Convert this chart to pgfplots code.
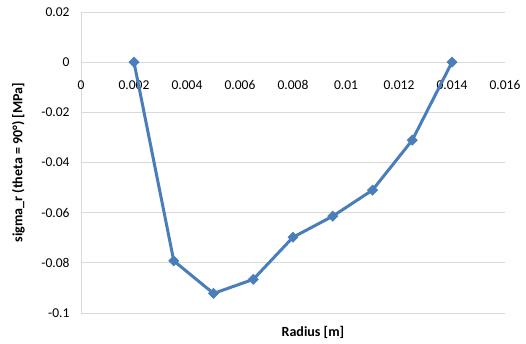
\documentclass[border=0pt]{standalone}
\usepackage{pgfplots}
\pgfplotsset{compat=1.18}
\usepackage{fontspec}
\setmainfont{Carlito}
\definecolor{series}{HTML}{4A7EBB}
\definecolor{gridc}{HTML}{D9D9D9}
\begin{document}
\begin{tikzpicture}[x=1pt,y=1pt]
\path[use as bounding box] (0,0) rectangle (526,343);
\begin{axis}[at={(81pt,30pt)}, anchor=south west, scale only axis,
  width=424pt, height=301pt,
  xmin=0, xmax=0.016, ymin=-0.1, ymax=0.02,
  scaled ticks=false,
  axis x line=middle, axis y line=left,
  axis line style={gridc, line width=0.8pt, -},
  hide obscured x ticks=false, hide obscured y ticks=false,
  xtick={0,0.002,0.004,0.006,0.008,0.01,0.012,0.014,0.016},
  xticklabels={0,0.002,0.004,0.006,0.008,0.01,0.012,0.014,0.016},
  ytick={-0.1,-0.08,-0.06,-0.04,-0.02,0,0.02},
  yticklabels={-0.1,-0.08,-0.06,-0.04,-0.02,0,0.02},
  major tick length=0pt,
  ymajorgrids, grid style={gridc, line width=0.8pt},
  tick label style={font=\fontsize{13.5}{15}\selectfont, text=black},
  yticklabel style={xshift=-8pt},
  xticklabel style={anchor=center, yshift=-23pt},
  xlabel={Radius [m]},
  ylabel={sigma\_r (theta = 90°) [MPa]},
  label style={font=\fontsize{14}{16}\selectfont\bfseries},
  xlabel style={at={(axis description cs:0.547,0)}, anchor=center, yshift=-19pt},
  ylabel style={at={(axis description cs:-0.148,0.5)}, anchor=center, rotate=0},
  clip=false,
]
\addplot[series, line width=3pt, mark=square*, mark size=3.6pt,
  mark options={rotate=45, series, line width=0.5pt}]
coordinates {
(0.002,0) (0.0035,-0.0792) (0.005,-0.0922) (0.0065,-0.0866)
(0.008,-0.0698) (0.0095,-0.0614) (0.011,-0.0510) (0.0125,-0.0311) (0.014,0)
};
\end{axis}
\end{tikzpicture}
\end{document}
